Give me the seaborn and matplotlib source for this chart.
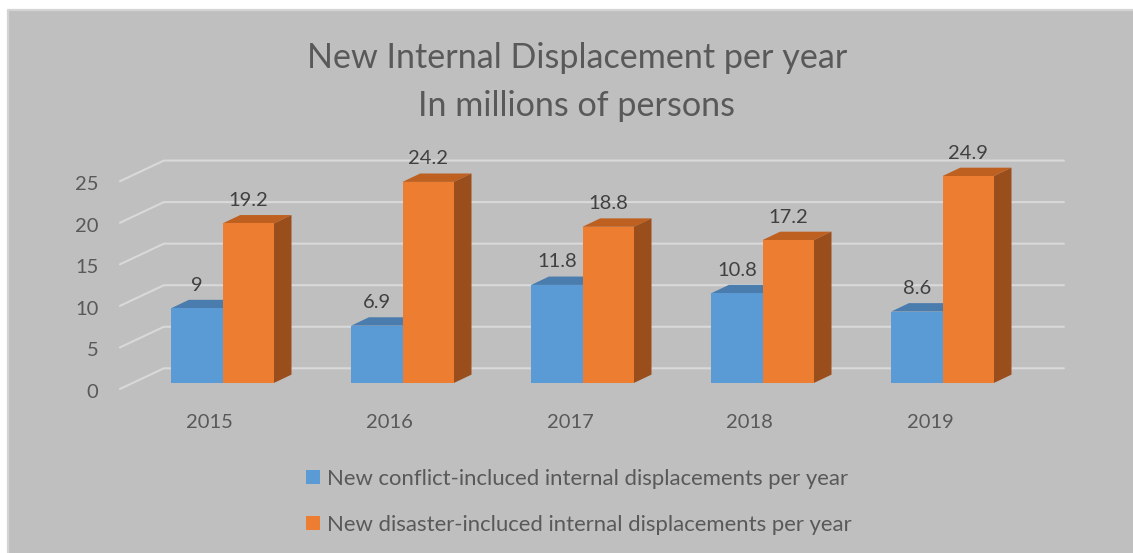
import matplotlib
matplotlib.use("Agg")
import matplotlib.pyplot as plt
import numpy as np
import pandas as pd
import seaborn as sns
from matplotlib.patches import Polygon, Rectangle, Patch
from matplotlib.lines import Line2D
from matplotlib.transforms import IdentityTransform

# ---- data -------------------------------------------------------------
years = ["2015", "2016", "2017", "2018", "2019"]
conflict = [9, 6.9, 11.8, 10.8, 8.6]
disaster = [19.2, 24.2, 18.8, 17.2, 24.9]
series_names = [
    "New conflict-incluced internal displacements per year",
    "New disaster-incluced internal displacements per year",
]
y_ticks = [0, 5, 10, 15, 20, 25]
title_lines = ["New Internal Displacement per year", "In millions of persons"]

# ---- styling ----------------------------------------------------------
W, H = 1133, 553
BG = "#BFBFBF"
TXT = "#595959"
GRID = "#D9D9D9"
front_cols = {series_names[0]: "#5B9BD5", series_names[1]: "#ED7D31"}
top_cols = {series_names[0]: "#4A7DAE", series_names[1]: "#BE6020"}
side_cols = {series_names[0]: "#3F6C98", series_names[1]: "#9A4E1C"}

# pseudo-3D offsets in pixels (x right, y up)
FLOOR_FRONT = np.array([-12.6, -6.0])
BACK_WALL = np.array([31.4, 14.7])
BAR_DEPTH = np.array([17.7, 8.4])

sns.set_theme(style="white")
plt.rcParams["font.family"] = ["Lato", "DejaVu Sans"]

df = pd.DataFrame({
    "year": years * 2,
    "series": [series_names[0]] * len(years) + [series_names[1]] * len(years),
    "value": conflict + disaster,
})

fig = plt.figure(figsize=(W / 100, H / 100), dpi=100, facecolor="white")

# chart area: grey panel with a light border along its top and left edges
fig.patches.append(Rectangle((8 / W, 0), 1 - 8 / W, (H - 10) / H,
                             transform=fig.transFigure, facecolor=BG,
                             edgecolor="none", zorder=-5))
fig.add_artist(Line2D([8 / W, 8 / W, 1], [0, (H - 10) / H, (H - 10) / H],
                      transform=fig.transFigure, color="#D4D4D4", lw=1.6,
                      zorder=-4))

ax = fig.add_axes([132.5 / W, (H - 383) / H, 900 / W, 25 * 8.31 / H])
ax.set_zorder(1)
sns.barplot(data=df, x="year", y="value", hue="series", palette=front_cols,
            width=0.57, gap=0, saturation=1, legend=False, ax=ax, zorder=3,
            linewidth=0)
ax.set_xlim(-0.5, len(years) - 0.5)
ax.set_ylim(0, 25)
ax.patch.set_visible(False)
for s in ax.spines.values():
    s.set_visible(False)
ax.set_xticks([])
ax.set_yticks([])
ax.set_xlabel("")
ax.set_ylabel("")

ident = IdentityTransform()
x0, x1 = ax.get_xlim()

# back wall gridlines with floor diagonals
for v in y_ticks:
    pl = ax.transData.transform((x0, v))
    pr = ax.transData.transform((x1, v))
    a = pl + FLOOR_FRONT
    b = pl + BACK_WALL
    c = pr + BACK_WALL
    ax.add_line(Line2D([a[0], b[0], c[0]], [a[1], b[1], c[1]], transform=ident,
                       color=GRID, lw=1.5, clip_on=False, zorder=1))
    ax.text(pl[0] + FLOOR_FRONT[0] - 21.5, pl[1] - 15, str(v), transform=ident,
            ha="right", va="baseline", fontsize=14.5, color=TXT)

# category labels on the floor front edge
for i, yr in enumerate(years):
    p = ax.transData.transform((i, 0))
    ax.text(p[0] + FLOOR_FRONT[0], p[1] - 45, yr, transform=ident,
            ha="center", va="baseline", fontsize=14.5, color=TXT)

# bar depth faces and value labels
for cont, name in zip(ax.containers, series_names):
    for bar, val in zip(cont.patches, cont.datavalues):
        bx, by = bar.get_x(), bar.get_y()
        bw, bh = bar.get_width(), bar.get_height()
        bl = ax.transData.transform((bx, by))
        tr = ax.transData.transform((bx + bw, by + bh))
        top = [(bl[0], tr[1]), (tr[0], tr[1]),
               (tr[0] + BAR_DEPTH[0], tr[1] + BAR_DEPTH[1]),
               (bl[0] + BAR_DEPTH[0], tr[1] + BAR_DEPTH[1])]
        side = [(tr[0], bl[1]), (tr[0], tr[1]),
                (tr[0] + BAR_DEPTH[0], tr[1] + BAR_DEPTH[1]),
                (tr[0] + BAR_DEPTH[0], bl[1] + BAR_DEPTH[1])]
        ax.add_patch(Polygon(top, closed=True, transform=ident, facecolor=top_cols[name],
                             edgecolor="none", clip_on=False, zorder=2))
        ax.add_patch(Polygon(side, closed=True, transform=ident, facecolor=side_cols[name],
                             edgecolor="none", clip_on=False, zorder=2))
        lbl = f"{val:g}"
        ax.text((bl[0] + tr[0]) / 2, tr[1] + 17.5, lbl, transform=ident,
                ha="center", va="baseline", fontsize=14.5, color="#404040")

# title
fig.text(577 / W, (H - 68) / H, title_lines[0], ha="center", va="baseline",
         fontsize=24.6, color=TXT)
fig.text(577 / W, (H - 116) / H, title_lines[1], ha="center", va="baseline",
         fontsize=24.6, color=TXT)

# legend
handles = [Patch(facecolor=front_cols[n], edgecolor="none") for n in series_names]
fig.legend(handles, series_names, loc="upper left",
           bbox_to_anchor=(306 / W, (H - 469) / H), frameon=False,
           fontsize=15.9, labelcolor=TXT, handlelength=0.63, handleheight=0.63,
           handletextpad=0.3, labelspacing=1.17, borderpad=0, borderaxespad=0)

fig.savefig("out.png", dpi=100, facecolor="white")
